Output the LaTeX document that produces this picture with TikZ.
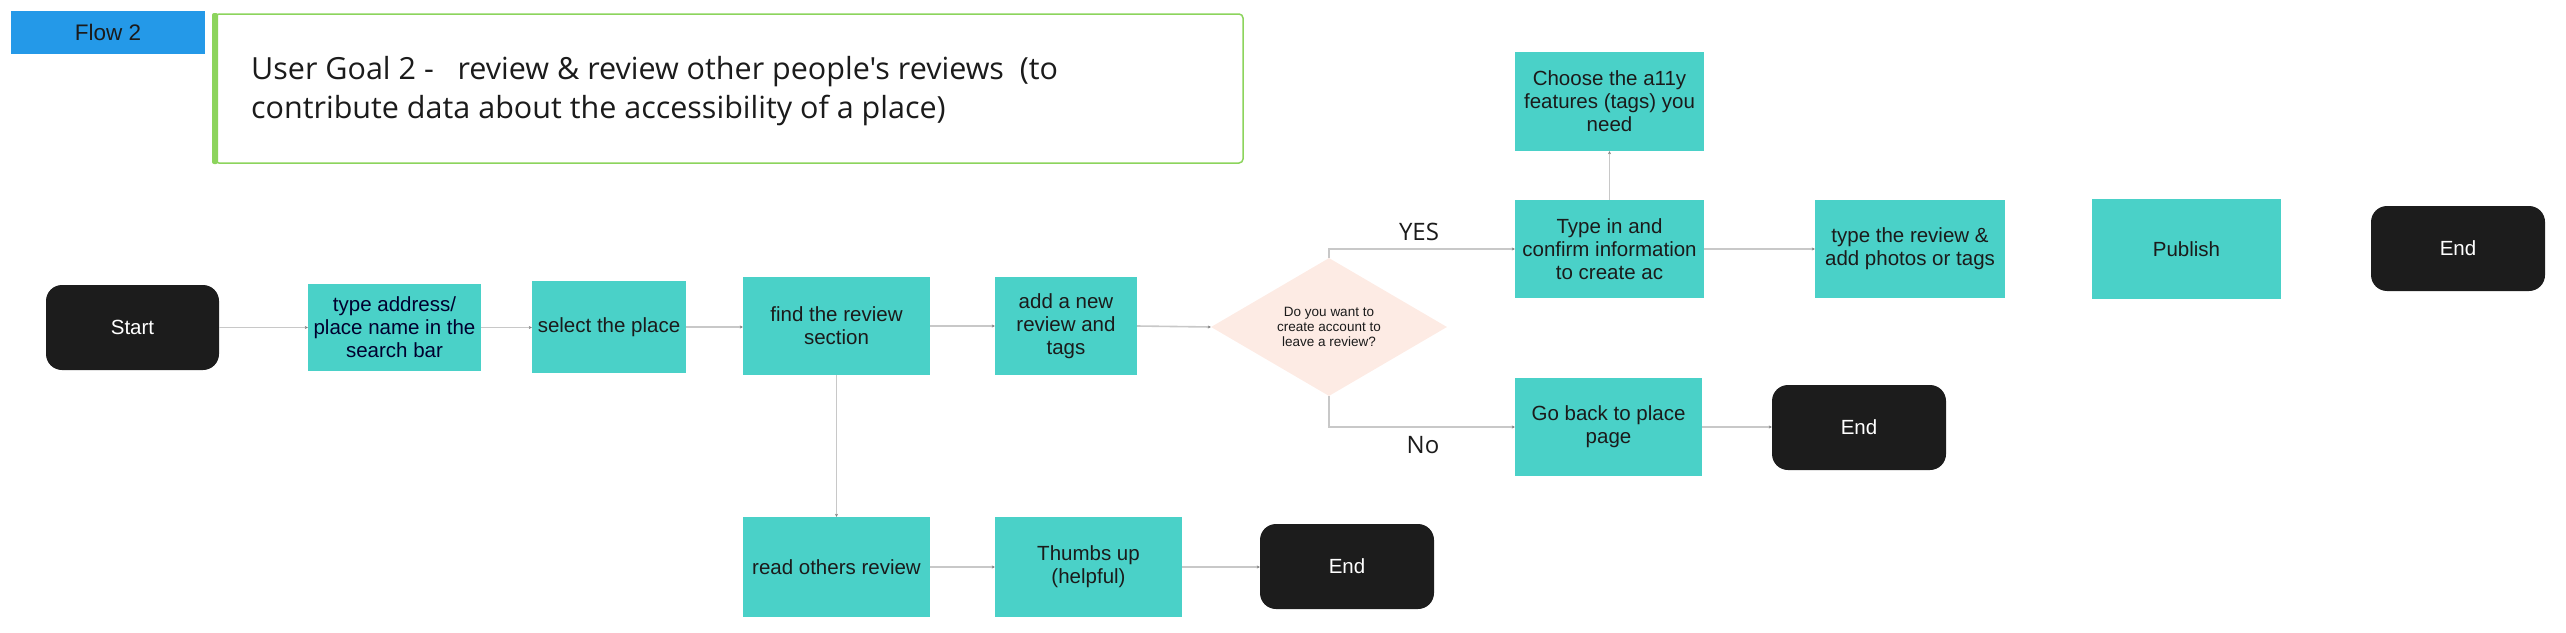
\documentclass[tikz,border=0pt]{standalone}
\usepackage{fontspec}
\setmainfont{Liberation Sans}
\newfontfamily\opensans{Open Sans}
\usetikzlibrary{arrows.meta,shapes.geometric}
\definecolor{teal}{HTML}{4AD1C8}
\definecolor{termblk}{HTML}{1C1C1C}
\definecolor{peach}{HTML}{FDEBE4}
\definecolor{flowblue}{HTML}{2499E8}
\definecolor{goalgreen}{HTML}{8CD45C}
\definecolor{conn}{HTML}{C8C8C8}
\definecolor{txt}{HTML}{1B1B1B}
\tikzset{
  stepbox/.style={fill=teal, draw=none, align=center, inner sep=0pt,
    font=\fontsize{20.5}{23}\selectfont, text=txt},
  term/.style={fill=termblk, draw=none, rounded corners=16pt, inner sep=0pt,
    font=\fontsize{20.5}{23}\selectfont, text=white},
  conn/.style={draw=conn, line width=1.6pt, -{Stealth[length=3pt,width=3pt,gray]}},
  lab/.style={font=\opensans\fontsize{24}{28}\selectfont, text=txt}
}
\begin{document}
\begin{tikzpicture}[x=1pt,y=-1pt]
\useasboundingbox (0,0) rectangle (2566,632);
% header
\node[fill=flowblue, minimum width=194pt, minimum height=43pt, inner sep=0pt,
  font=\fontsize{22.5}{25}\selectfont, text=txt] (flow) at (108,32.5) {Flow 2};
\draw[goalgreen, line width=1.5pt, rounded corners=4pt, fill=white] (215,14) rectangle (1243,163);
\fill[goalgreen, rounded corners=2pt] (212,13) rectangle (218,164);
\node[anchor=north west, align=left, inner sep=0pt, text=txt,
  font=\opensans\fontsize{30.5}{39}\selectfont] (goal) at (251,56)
  {User Goal 2 -\ \ \ review \& review other people's reviews\ \ (to\\contribute data about the accessibility of a place)};
% nodes
\node[term, minimum width=173pt, minimum height=85pt] (start) at (132.5,327.5) {Start};
\node[stepbox, minimum width=173pt, minimum height=87pt, text=black!70!blue!60!black] (addr) at (394.5,327.5) {type address/\\place name in the\\search bar};
\node[stepbox, minimum width=154pt, minimum height=92pt] (select) at (609,327) {select the place};
\node[stepbox, minimum width=187pt, minimum height=98pt] (find) at (836.5,326) {find the review\\section};
\node[stepbox, minimum width=142pt, minimum height=98pt] (addnew) at (1066,326) {add a new\\review and\\tags};
\node[diamond, aspect=1.71, fill=peach, draw=none, minimum width=236pt, minimum height=138pt, inner sep=0pt, align=center,
  font=\fontsize{13.5}{15}\selectfont, text=txt] (dec) at (1329,327) {Do you want to\\create account to\\leave a review?};
\node[stepbox, minimum width=189pt, minimum height=98pt] (typein) at (1609.5,249) {Type in and\\confirm information\\to create ac};
\node[stepbox, minimum width=189pt, minimum height=99pt] (choose) at (1609.5,101.5) {Choose the a11y\\features (tags) you\\need};
\node[stepbox, minimum width=190pt, minimum height=98pt] (treview) at (1910,249) {type the review \&\\add photos or tags};
\node[stepbox, minimum width=189pt, minimum height=100pt] (publish) at (2186.5,249) {Publish};
\node[term, minimum width=174pt, minimum height=85pt] (endA) at (2458,248.5) {End};
\node[stepbox, minimum width=187pt, minimum height=98pt] (goback) at (1608.5,427) {Go back to place\\page};
\node[term, minimum width=174pt, minimum height=85pt] (endB) at (1859,427.5) {End};
\node[stepbox, minimum width=187pt, minimum height=100pt] (read) at (836.5,567) {read others review};
\node[stepbox, minimum width=187pt, minimum height=100pt] (thumbs) at (1088.5,567) {Thumbs up\\(helpful)};
\node[term, minimum width=174pt, minimum height=85pt] (endC) at (1347,566.5) {End};
% connectors
\draw[conn] (start.east) -- (start.east -| addr.west);
\draw[conn] (addr.east) -- (addr.east -| select.west);
\draw[conn] (select.east) -- (select.east -| find.west);
\draw[conn] (find.east) -- (find.east -| addnew.west);
\draw[conn] (addnew.east) -- (dec.west);
\draw[conn] (dec.north) |- (typein.west);
\draw[conn] (dec.south) |- (goback.west);
\draw[conn] (typein.north) -- (choose.south);
\draw[conn] (typein.east) -- (treview.west);
\draw[conn] (goback.east) -- (goback.east -| endB.west);
\draw[conn] (find.south) -- (read.north);
\draw[conn] (read.east) -- (read.east -| thumbs.west);
\draw[conn] (thumbs.east) -- (thumbs.east -| endC.west);
% labels
\node[lab] (yes) at (1419,232) {YES};
\node[lab] (no) at (1423,445) {No};
\end{tikzpicture}
\end{document}
